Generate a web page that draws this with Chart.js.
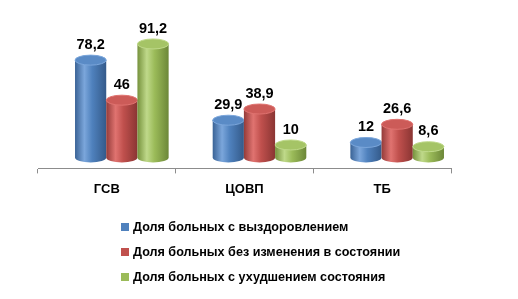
<!DOCTYPE html>
<html>
<head>
<meta charset="utf-8">
<script src="https://cdn.jsdelivr.net/npm/chart.js@4.4.0/dist/chart.umd.min.js"></script>
<style>
  html, body { margin: 0; padding: 0; background: #fff; }
  #wrap { position: relative; width: 518px; height: 299px; }
  #legend { position: absolute; left: 121px; top: 219px; font: bold 12.6px "Liberation Sans", Arial, sans-serif; color: #000; }
  #legend div { height: 25px; line-height: 17px; white-space: nowrap; }
  #legend span.box { display: inline-block; width: 8px; height: 8px; margin-right: 4px; vertical-align: 0px; }
</style>
</head>
<body>
<div id="wrap">
  <canvas id="c" width="518" height="299"></canvas>
  <div id="legend"></div>
</div>
<script>
// данные
const categories = ['ГСВ', 'ЦОВП', 'ТБ'];
const seriesNames = [
  'Доля больных с выздоровлением',
  'Доля больных без изменения в состоянии',
  'Доля больных с ухудшением состояния'
];
const recovered = [78.2, 29.9, 12];
const unchanged = [46, 38.9, 26.6];
const worsened = [91.2, 10, 8.6];

const colors = ['#4F81BD', '#C0504D', '#9BBB59'];
// оттенки для цилиндров: [тёмный край, блик, правый край, верх]
const shades = [
  ['#3A6396', '#7BA6DB', '#345A8A', '#5A8BC6'],
  ['#943B39', '#E07370', '#8A3533', '#CC5B58'],
  ['#76923C', '#BFD98A', '#6C8738', '#A5C466']
];

const depthX = 15;   // сдвиг "глубины" 3D
const floorY = 11;   // подъём основания над осью
const ry = 5;        // полуось эллипса

function fmt(v) {
  return String(v).replace('.', ',');
}

const cylinders = {
  id: 'cylinders',
  beforeDatasetDraw() {
    return false; // обычные бары не рисуем
  },
  afterDatasetsDraw(chart) {
    const ctx = chart.ctx;
    chart.data.datasets.forEach((ds, di) => {
      const meta = chart.getDatasetMeta(di);
      const sh = shades[di];
      meta.data.forEach((bar, i) => {
        const w = bar.width;
        const cx = bar.x + depthX;
        const left = cx - w / 2;
        const top = bar.y - floorY;
        const bottom = bar.base - floorY;
        const rx = w / 2;

        const g = ctx.createLinearGradient(left, 0, left + w, 0);
        g.addColorStop(0, sh[0]);
        g.addColorStop(0.3, sh[1]);
        g.addColorStop(0.55, colors[di]);
        g.addColorStop(1, sh[2]);

        ctx.save();
        ctx.fillStyle = g;
        ctx.beginPath();
        ctx.moveTo(left, top);
        ctx.lineTo(left, bottom);
        ctx.ellipse(cx, bottom, rx, ry, 0, Math.PI, 0, true);
        ctx.lineTo(left + w, top);
        ctx.closePath();
        ctx.fill();

        // верхняя крышка
        ctx.beginPath();
        ctx.ellipse(cx, top, rx, ry, 0, 0, Math.PI * 2);
        ctx.fillStyle = sh[3];
        ctx.fill();
        ctx.lineWidth = 1;
        ctx.strokeStyle = sh[1];
        ctx.stroke();

        // подпись
        ctx.fillStyle = '#000';
        ctx.font = 'bold 14.5px "Liberation Sans", Arial, sans-serif';
        ctx.textAlign = 'center';
        ctx.textBaseline = 'bottom';
        ctx.fillText(fmt(ds.data[i]), cx, top - ry - 3);
        ctx.restore();
      });
    });
  }
};

const chart = new Chart(document.getElementById('c'), {
  type: 'bar',
  data: {
    labels: categories,
    datasets: [
      { label: seriesNames[0], data: recovered, backgroundColor: colors[0] },
      { label: seriesNames[1], data: unchanged, backgroundColor: colors[1] },
      { label: seriesNames[2], data: worsened, backgroundColor: colors[2] }
    ]
  },
  options: {
    responsive: false,
    animation: false,
    categoryPercentage: 0.68,
    barPercentage: 1,
    layout: { padding: { left: 38, right: 67, top: 44, bottom: 94 } },
    plugins: {
      legend: { display: false },
      tooltip: { enabled: false }
    },
    scales: {
      y: { display: false, min: 0, max: 100 },
      x: {
        grid: { drawOnChartArea: false, drawTicks: true, tickLength: 5, color: '#8c8c8c', offset: true },
        border: { display: true, color: '#8c8c8c' },
        ticks: {
          color: '#000',
          padding: 8,
          font: { family: '"Liberation Sans", Arial, sans-serif', size: 13, weight: 'bold' }
        }
      }
    }
  },
  plugins: [cylinders]
});

// легенда
const legendEl = document.getElementById('legend');
seriesNames.forEach((name, i) => {
  const row = document.createElement('div');
  row.innerHTML = '<span class="box" style="background:' + colors[i] + '"></span>' + name;
  legendEl.appendChild(row);
});
</script>
</body>
</html>
